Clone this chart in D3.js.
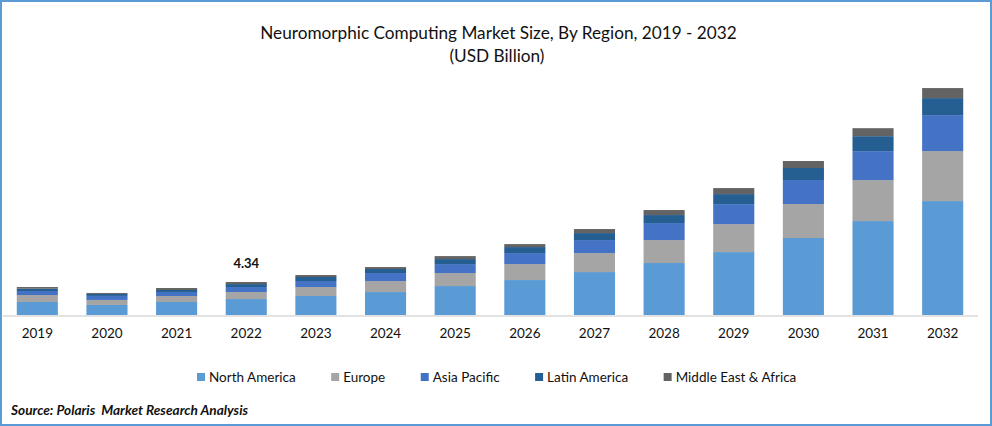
<!doctype html>
<html>
  <head>
    <meta charset="UTF-8"/>
    <title>Neuromorphic Computing Market Size</title>
    <script src="https://d3js.org/d3.v7.min.js"></script>
    <style>
      html, body { margin: 0; padding: 0; background: #fff; }
      svg { display: block; font-family: Lato, "Open Sans", sans-serif; }
      text { fill: #111; white-space: pre; }
    </style>
  </head>
  <body>
    <svg id="chart" width="992" height="426"></svg>
    <script>
      const years = ["2019","2020","2021","2022","2023","2024","2025","2026","2027","2028","2029","2030","2031","2032"];
      const regions = ["North America","Europe","Asia Pacific","Latin America","Middle East & Africa"];
      const colors = ["#5b9bd5","#a5a5a5","#4472c4","#255e91","#636363"];

      // USD billion
      const northAmerica = [1.71,1.32,1.71,2.10,2.50,3.02,3.81,4.60,5.65,6.84,8.28,10.13,12.36,14.99];
      const europe = [0.92,0.66,0.79,0.92,1.18,1.45,1.71,2.10,2.50,3.02,3.68,4.47,5.39,6.58];
      const asiaPacific = [0.53,0.53,0.53,0.66,0.79,1.05,1.18,1.45,1.71,2.24,2.63,3.16,3.81,4.73];
      const latinAmerica = [0.30,0.26,0.26,0.39,0.53,0.53,0.66,0.79,0.92,1.05,1.32,1.58,1.97,2.24];
      const middleEast = [0.22,0.13,0.26,0.27,0.26,0.26,0.39,0.39,0.53,0.66,0.79,0.92,1.05,1.32];
      const seriesValues = [northAmerica, europe, asiaPacific, latinAmerica, middleEast];

      const labelledYear = "2022";
      const labelledValue = "4.34";

      const svg = d3.select("#chart");

      const x = d3.scaleBand().domain(years).range([2.5, 977.5]).paddingInner(0.41).paddingOuter(0.205);
      const y = d3.scaleLinear().domain([0, 30]).range([315, 87]);

      const rows = years.map((year, i) => {
        const row = { year };
        regions.forEach((r, j) => { row[r] = seriesValues[j][i]; });
        return row;
      });
      const stacked = d3.stack().keys(regions)(rows);

      svg.append("g").selectAll("g")
        .data(stacked)
        .join("g")
        .attr("fill", (d, i) => colors[i])
        .selectAll("rect")
        .data(d => d)
        .join("rect")
        .attr("x", d => x(d.data.year))
        .attr("width", x.bandwidth())
        .attr("y", d => y(d[1]))
        .attr("height", d => y(d[0]) - y(d[1]));

      const xAxis = svg.append("g")
        .attr("transform", "translate(0,315.5)")
        .call(d3.axisBottom(x).tickSize(0).tickPadding(13));
      xAxis.select(".domain").attr("stroke", "#d9d9d9").attr("stroke-width", 1.5);
      xAxis.selectAll("text").attr("font-size", 13.5).attr("font-family", "Lato").attr("fill", "#111");

      // value label over the one labelled bar
      const labelledTotal = d3.sum(seriesValues, s => s[years.indexOf(labelledYear)]);
      svg.append("text")
        .attr("x", x(labelledYear) + x.bandwidth() / 2)
        .attr("y", y(labelledTotal) - 14)
        .attr("text-anchor", "middle")
        .attr("font-size", 13)
        .attr("font-weight", 700)
        .text(labelledValue);

      // title
      svg.append("text").attr("x", 498.5).attr("y", 39).attr("text-anchor", "middle")
        .attr("font-size", 17.2).text("Neuromorphic Computing Market Size, By Region, 2019 - 2032");
      svg.append("text").attr("x", 497).attr("y", 62).attr("text-anchor", "middle")
        .attr("font-size", 17.2).text("(USD Billion)");

      // legend, laid out from the measured text widths
      let legendX = 197;
      regions.forEach((name, i) => {
        svg.append("rect").attr("x", legendX).attr("y", 373).attr("width", 8).attr("height", 8).attr("fill", colors[i]);
        const label = svg.append("text").attr("x", legendX + 12).attr("y", 381.5)
          .attr("font-size", 13.5).text(name);
        legendX += 12 + label.node().getComputedTextLength() + 35.5;
      });

      svg.append("text").attr("x", 11).attr("y", 415)
        .attr("font-size", 13.65).attr("font-weight", 700).attr("font-style", "italic")
        .text("Source: Polaris  Market Research Analysis");

      // picture frame
      svg.append("rect").attr("x", 1).attr("y", 1).attr("width", 990).attr("height", 424)
        .attr("fill", "none").attr("stroke", "#5b9bd5").attr("stroke-width", 2);
    </script>
  </body>
</html>
